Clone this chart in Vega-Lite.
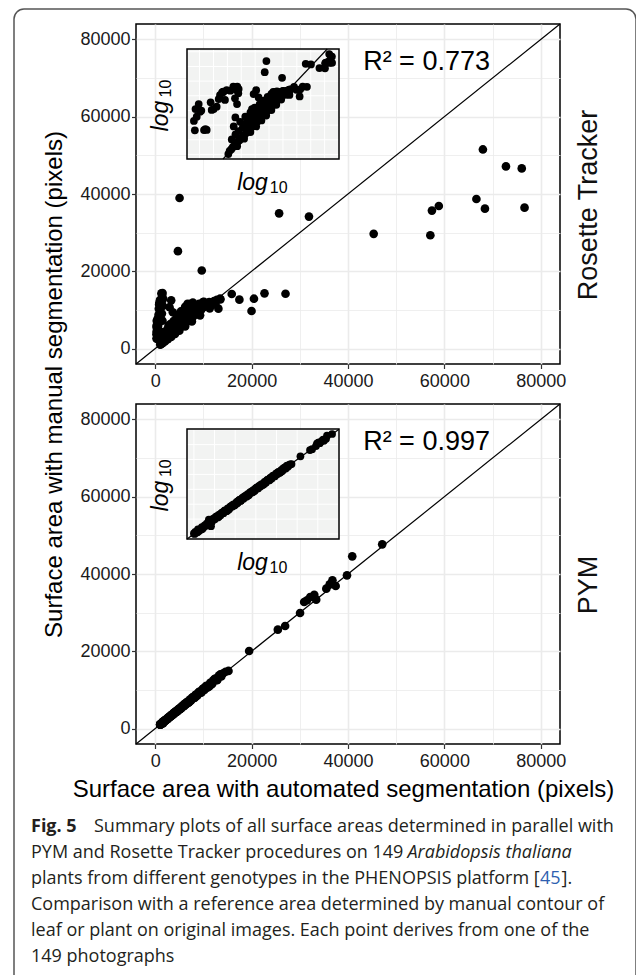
{
  "$schema": "https://vega.github.io/schema/vega-lite/v6.json",
  "background": "white",
  "autosize": {"type": "pad"},
  "padding": {"left": 13, "top": 8, "right": 0, "bottom": 0},
  "bounds": "flush",
  "spacing": 40,
  "datasets": {
    "rt": [
      {"auto": 57090, "manual": 29330}, {"auto": 57420, "manual": 35700}, {"auto": 58850, "manual": 36900}, {"auto": 66650, "manual": 38700},
      {"auto": 68000, "manual": 51530}, {"auto": 68420, "manual": 36200}, {"auto": 72780, "manual": 47140}, {"auto": 76060, "manual": 46620},
      {"auto": 76640, "manual": 36470}, {"auto": 45330, "manual": 29680},
      {"auto": 25700, "manual": 35000}, {"auto": 31900, "manual": 34150}, {"auto": 5040, "manual": 38970}, {"auto": 4700, "manual": 25200}, {"auto": 9650, "manual": 20200},
      {"auto": 15870, "manual": 14110}, {"auto": 17460, "manual": 12650}, {"auto": 20480, "manual": 12900}, {"auto": 19980, "manual": 9720},
      {"auto": 22670, "manual": 14280}, {"auto": 27030, "manual": 14190}, {"auto": 13520, "manual": 12730}, {"auto": 13100, "manual": 10320},
      {"auto": 267, "manual": 5930}, {"auto": 250, "manual": 3730}, {"auto": 305, "manual": 7210}, {"auto": 403, "manual": 2690}, {"auto": 380, "manual": 2600},
      {"auto": 568, "manual": 5930}, {"auto": 698, "manual": 8790}, {"auto": 803, "manual": 11400}, {"auto": 1132, "manual": 12200}, {"auto": 1393, "manual": 13900},
      {"auto": 1597, "manual": 13000}, {"auto": 1493, "manual": 7210}, {"auto": 1393, "manual": 4260}, {"auto": 2773, "manual": 5930}, {"auto": 2966, "manual": 10700},
      {"auto": 3648, "manual": 9380}, {"auto": 2590, "manual": 4000},
      {"auto": 1510, "manual": 14370}, {"auto": 840, "manual": 11600}, {"auto": 500, "manual": 7740}, {"auto": 340, "manual": 5600}, {"auto": 260, "manual": 2580},
      {"auto": 737, "manual": 10300}, {"auto": 845, "manual": 11730}, {"auto": 973, "manual": 12530}, {"auto": 1279, "manual": 14290}, {"auto": 1472, "manual": 12530},
      {"auto": 1574, "manual": 11010}, {"auto": 1371, "manual": 9050}, {"auto": 906, "manual": 8470}, {"auto": 642, "manual": 6510}, {"auto": 522, "manual": 5720},
      {"auto": 322, "manual": 5350}, {"auto": 281, "manual": 4390}, {"auto": 425, "manual": 2610},
      {"auto": 1040, "manual": 1016}, {"auto": 1100, "manual": 1150}, {"auto": 1180, "manual": 1230}, {"auto": 1250, "manual": 1330}, {"auto": 1320, "manual": 1380},
      {"auto": 1400, "manual": 1500}, {"auto": 1480, "manual": 1560}, {"auto": 1560, "manual": 1680}, {"auto": 1650, "manual": 1740}, {"auto": 1750, "manual": 1880},
      {"auto": 1850, "manual": 1950}, {"auto": 1950, "manual": 2100}, {"auto": 2060, "manual": 2180}, {"auto": 2180, "manual": 2350}, {"auto": 2300, "manual": 2420},
      {"auto": 2430, "manual": 2600}, {"auto": 2560, "manual": 2700}, {"auto": 2700, "manual": 2900}, {"auto": 2850, "manual": 3000}, {"auto": 3000, "manual": 3230},
      {"auto": 3150, "manual": 3320}, {"auto": 3320, "manual": 3560}, {"auto": 3500, "manual": 3680}, {"auto": 3680, "manual": 3950}, {"auto": 3870, "manual": 4080},
      {"auto": 4070, "manual": 4370}, {"auto": 4280, "manual": 4500}, {"auto": 4500, "manual": 4830}, {"auto": 4730, "manual": 4980}, {"auto": 4980, "manual": 5340},
      {"auto": 5230, "manual": 5500}, {"auto": 5500, "manual": 5900}, {"auto": 5780, "manual": 6080}, {"auto": 6080, "manual": 6520}, {"auto": 6390, "manual": 6720},
      {"auto": 6720, "manual": 7200}, {"auto": 7060, "manual": 7430}, {"auto": 7420, "manual": 7950}, {"auto": 7800, "manual": 8200}, {"auto": 8200, "manual": 8780},
      {"auto": 8620, "manual": 9060}, {"auto": 9060, "manual": 9700}, {"auto": 9520, "manual": 10020}, {"auto": 10010, "manual": 10700}, {"auto": 10520, "manual": 11070},
      {"auto": 11060, "manual": 11500}, {"auto": 11620, "manual": 11900}, {"auto": 12200, "manual": 12300}, {"auto": 12800, "manual": 12600}, {"auto": 13450, "manual": 12900},
      {"auto": 1200, "manual": 1800}, {"auto": 1400, "manual": 2200}, {"auto": 1600, "manual": 2500}, {"auto": 1900, "manual": 2900}, {"auto": 2200, "manual": 3400},
      {"auto": 2500, "manual": 3900}, {"auto": 2900, "manual": 4500}, {"auto": 3300, "manual": 5100}, {"auto": 3700, "manual": 5600}, {"auto": 4200, "manual": 6200},
      {"auto": 4700, "manual": 7000}, {"auto": 5300, "manual": 7700}, {"auto": 5900, "manual": 8500}, {"auto": 6600, "manual": 9400}, {"auto": 7400, "manual": 10300},
      {"auto": 8200, "manual": 11000}, {"auto": 9100, "manual": 11600}, {"auto": 10100, "manual": 12100}, {"auto": 11200, "manual": 12000}, {"auto": 12500, "manual": 11500},
      {"auto": 1300, "manual": 3000}, {"auto": 1700, "manual": 3600}, {"auto": 2100, "manual": 4400}, {"auto": 2600, "manual": 5200}, {"auto": 3100, "manual": 6300},
      {"auto": 3800, "manual": 7100}, {"auto": 4500, "manual": 8300}, {"auto": 5300, "manual": 9600}, {"auto": 6200, "manual": 10800}, {"auto": 7100, "manual": 11500},
      {"auto": 3300, "manual": 12470}, {"auto": 6130, "manual": 9460}, {"auto": 6700, "manual": 11600}, {"auto": 7800, "manual": 11870}, {"auto": 9900, "manual": 12040},
      {"auto": 1500, "manual": 1380}, {"auto": 2000, "manual": 1850}, {"auto": 2600, "manual": 2400}, {"auto": 3300, "manual": 3000}, {"auto": 4100, "manual": 3800},
      {"auto": 5000, "manual": 4600}, {"auto": 6200, "manual": 5700}, {"auto": 7600, "manual": 7000}, {"auto": 9300, "manual": 8600}, {"auto": 11300, "manual": 10400}
    ],
    "pym": [
      {"auto": 1000, "manual": 1020}, {"auto": 1040, "manual": 1090}, {"auto": 1080, "manual": 1060}, {"auto": 1120, "manual": 1200}, {"auto": 1160, "manual": 1140},
      {"auto": 1200, "manual": 1190}, {"auto": 1250, "manual": 1310}, {"auto": 1300, "manual": 1290}, {"auto": 1350, "manual": 1400}, {"auto": 1400, "manual": 1370},
      {"auto": 1460, "manual": 1500}, {"auto": 1520, "manual": 1490}, {"auto": 1580, "manual": 1660}, {"auto": 1650, "manual": 1610}, {"auto": 1720, "manual": 1780},
      {"auto": 1790, "manual": 1760}, {"auto": 1860, "manual": 1950}, {"auto": 1940, "manual": 1900}, {"auto": 2020, "manual": 2110}, {"auto": 2100, "manual": 2060},
      {"auto": 2190, "manual": 2270}, {"auto": 2280, "manual": 2230}, {"auto": 2370, "manual": 2480}, {"auto": 2470, "manual": 2420}, {"auto": 2570, "manual": 2690},
      {"auto": 2680, "manual": 2620}, {"auto": 2790, "manual": 2900}, {"auto": 2900, "manual": 2870}, {"auto": 3020, "manual": 3150}, {"auto": 3140, "manual": 3080},
      {"auto": 3270, "manual": 3400}, {"auto": 3400, "manual": 3330}, {"auto": 3540, "manual": 3700}, {"auto": 3680, "manual": 3620}, {"auto": 3830, "manual": 3980},
      {"auto": 3980, "manual": 3910}, {"auto": 4140, "manual": 4320}, {"auto": 4310, "manual": 4230}, {"auto": 4480, "manual": 4660}, {"auto": 4660, "manual": 4580},
      {"auto": 4850, "manual": 5050}, {"auto": 5040, "manual": 4960}, {"auto": 5240, "manual": 5450}, {"auto": 5450, "manual": 5360}, {"auto": 5670, "manual": 5900},
      {"auto": 5900, "manual": 5800}, {"auto": 6130, "manual": 6380}, {"auto": 6380, "manual": 6270}, {"auto": 6630, "manual": 6900}, {"auto": 6900, "manual": 6780},
      {"auto": 7170, "manual": 7470}, {"auto": 7460, "manual": 7330}, {"auto": 7760, "manual": 8080}, {"auto": 8070, "manual": 7930}, {"auto": 8390, "manual": 8730},
      {"auto": 8720, "manual": 8570}, {"auto": 9070, "manual": 9440}, {"auto": 9430, "manual": 9270}, {"auto": 9810, "manual": 10200}, {"auto": 10200, "manual": 10020},
      {"auto": 10600, "manual": 11030}, {"auto": 11000, "manual": 10810}, {"auto": 11400, "manual": 11860}, {"auto": 11850, "manual": 11640}, {"auto": 12300, "manual": 12790},
      {"auto": 12750, "manual": 12530}, {"auto": 13200, "manual": 13720}, {"auto": 13700, "manual": 13460},
      {"auto": 1020, "manual": 1000}, {"auto": 1140, "manual": 1180}, {"auto": 1280, "manual": 1250}, {"auto": 1430, "manual": 1500}, {"auto": 1600, "manual": 1560},
      {"auto": 1800, "manual": 1880}, {"auto": 2000, "manual": 1950}, {"auto": 2240, "manual": 2330}, {"auto": 2500, "manual": 2440}, {"auto": 2750, "manual": 2860},
      {"auto": 3050, "manual": 2980}, {"auto": 3350, "manual": 3480}, {"auto": 3700, "manual": 3600}, {"auto": 4050, "manual": 4200}, {"auto": 4400, "manual": 4290},
      {"auto": 4750, "manual": 4930}, {"auto": 5150, "manual": 5020}, {"auto": 5550, "manual": 5760}, {"auto": 6000, "manual": 5850}, {"auto": 6500, "manual": 6740},
      {"auto": 7000, "manual": 6830}, {"auto": 7600, "manual": 7880}, {"auto": 8200, "manual": 8000}, {"auto": 8900, "manual": 9240}, {"auto": 9600, "manual": 9370},
      {"auto": 10400, "manual": 10800}, {"auto": 11200, "manual": 10930}, {"auto": 12000, "manual": 12450}, {"auto": 12900, "manual": 12600}, {"auto": 13500, "manual": 14000},
      {"auto": 1700, "manual": 1790}, {"auto": 2600, "manual": 2520}, {"auto": 3600, "manual": 3780}, {"auto": 4600, "manual": 4480}, {"auto": 5800, "manual": 6050},
      {"auto": 7300, "manual": 7150}, {"auto": 9200, "manual": 9550}, {"auto": 11600, "manual": 11350},
      {"auto": 1100, "manual": 1070}, {"auto": 1250, "manual": 1200}, {"auto": 1500, "manual": 1560}, {"auto": 1900, "manual": 1990}, {"auto": 2300, "manual": 2380},
      {"auto": 2900, "manual": 3020}, {"auto": 3300, "manual": 3260}, {"auto": 3900, "manual": 4060}, {"auto": 4300, "manual": 4470}, {"auto": 5000, "manual": 5180},
      {"auto": 5400, "manual": 5280}, {"auto": 6200, "manual": 6450}, {"auto": 6800, "manual": 6650}, {"auto": 7900, "manual": 8200}, {"auto": 8600, "manual": 8450},
      {"auto": 10000, "manual": 10380}, {"auto": 10800, "manual": 10590}, {"auto": 12500, "manual": 12950},
      {"auto": 1150, "manual": 1120}, {"auto": 2150, "manual": 2240}, {"auto": 3450, "manual": 3580}, {"auto": 8400, "manual": 8700},
      {"auto": 1517, "manual": 1747}, {"auto": 1611, "manual": 1350},
      {"auto": 14100, "manual": 14300}, {"auto": 14600, "manual": 14700}, {"auto": 15200, "manual": 14910}, {"auto": 19480, "manual": 20080},
      {"auto": 25440, "manual": 25600}, {"auto": 26950, "manual": 26550}, {"auto": 30050, "manual": 29910}, {"auto": 30900, "manual": 32760},
      {"auto": 31500, "manual": 33200}, {"auto": 32150, "manual": 34050}, {"auto": 33400, "manual": 33360}, {"auto": 33000, "manual": 34600},
      {"auto": 35500, "manual": 36200}, {"auto": 36200, "manual": 37300}, {"auto": 36770, "manual": 38360}, {"auto": 37440, "manual": 36900},
      {"auto": 39790, "manual": 39650}, {"auto": 40880, "manual": 44570}, {"auto": 47100, "manual": 47670}
    ],
    "gridRT": [{"g": 316.23}, {"g": 562.34}, {"g": 1000}, {"g": 1778.28}, {"g": 3162.28}, {"g": 5623.41}, {"g": 10000}, {"g": 17782.8}, {"g": 31622.8}, {"g": 56234.1}],
    "gridRTy": [{"g": 1000}, {"g": 1778.28}, {"g": 3162.28}, {"g": 5623.41}, {"g": 10000}, {"g": 17782.8}, {"g": 31622.8}, {"g": 56234.1}],
    "gridPYM": [{"g": 1000}, {"g": 1778.28}, {"g": 3162.28}, {"g": 5623.41}, {"g": 10000}, {"g": 17782.8}, {"g": 31622.8}, {"g": 56234.1}]
  },
  "vconcat": [
    {
      "width": 424,
      "height": 340,
      "title": {"text": "Rosette Tracker", "orient": "right", "anchor": "middle", "frame": "group", "angle": 270, "baseline": "alphabetic", "offset": 4, "dx": -11, "fontSize": 27, "font": "Liberation Sans", "fontWeight": "normal", "color": "#111111"},
      "resolve": {"scale": {"x": "independent", "y": "independent"}},
      "layer": [
        {
          "layer": [
            {
              "data": {"name": "rt"},
              "mark": {"type": "circle", "size": 75, "color": "black", "opacity": 1},
              "encoding": {
                "x": {"field": "auto", "type": "quantitative", "scale": {"domain": [-4000, 84000], "nice": false, "zero": false},
                  "axis": {"values": [0, 10000, 20000, 30000, 40000, 50000, 60000, 70000, 80000], "format": "d",
                    "labelExpr": "datum.value % 20000 === 0 ? datum.label : ''",
                    "tickOpacity": {"condition": {"test": "datum.value % 20000 === 0", "value": 1}, "value": 0},
                    "gridWidth": {"condition": {"test": "datum.value % 20000 === 0", "value": 1.6}, "value": 0.8},
                    "labelPadding": 3.5, "title": null}},
                "y": {"field": "manual", "type": "quantitative", "scale": {"domain": [-4000, 84000], "nice": false, "zero": false},
                  "axis": {"values": [0, 10000, 20000, 30000, 40000, 50000, 60000, 70000, 80000], "format": "d",
                    "labelExpr": "datum.value % 20000 === 0 ? datum.label : ''",
                    "tickOpacity": {"condition": {"test": "datum.value % 20000 === 0", "value": 1}, "value": 0},
                    "gridWidth": {"condition": {"test": "datum.value % 20000 === 0", "value": 1.6}, "value": 0.8},
                    "labelPadding": 1.5,
                    "title": "Surface area with manual segmentation (pixels)",
                    "titleAngle": 270, "titleAlign": "center", "titleBaseline": "alphabetic", "titleX": -75, "titleY": 360}}
              }
            },
            {
              "data": {"values": [{}]},
              "mark": {"type": "rule", "color": "black", "strokeWidth": 1.2},
              "encoding": {"x": {"datum": -4000, "type": "quantitative"}, "y": {"datum": -4000, "type": "quantitative"}, "x2": {"datum": 84000}, "y2": {"datum": 84000}}
            },
            {
              "data": {"values": [{"label": "R² = 0.773"}]},
              "mark": {"type": "text", "font": "Liberation Sans", "fontSize": 27, "align": "left", "baseline": "middle", "color": "black"},
              "encoding": {"text": {"field": "label"}, "x": {"datum": 43140, "type": "quantitative"}, "y": {"datum": 74060, "type": "quantitative"}}
            }
          ]
        },
        {
          "layer": [
            {
              "data": {"values": [{}]},
              "mark": {"type": "rect", "fill": "#F2F3F2"},
              "encoding": {
                "x": {"datum": 187.8, "type": "quantitative", "scale": {"type": "log", "domain": [187.8, 102040], "range": [51, 203], "nice": false, "zero": false}, "axis": null},
                "x2": {"datum": 102040},
                "y": {"datum": 835.1, "type": "quantitative", "scale": {"type": "log", "domain": [835.1, 62710], "range": [135, 25], "nice": false, "zero": false}, "axis": null},
                "y2": {"datum": 62710}
              }
            },
            {
              "data": {"name": "gridRT"},
              "mark": {"type": "rule", "color": "white", "strokeWidth": 1},
              "encoding": {"x": {"field": "g", "type": "quantitative", "axis": null}, "y": {"datum": 835.1, "type": "quantitative", "axis": null}, "y2": {"datum": 62710}}
            },
            {
              "data": {"name": "gridRTy"},
              "mark": {"type": "rule", "color": "white", "strokeWidth": 1},
              "encoding": {"y": {"field": "g", "type": "quantitative", "axis": null}, "x": {"datum": 187.8, "type": "quantitative", "axis": null}, "x2": {"datum": 102040}}
            },
            {
              "data": {"name": "rt"},
              "mark": {"type": "circle", "size": 60, "color": "black", "opacity": 1},
              "encoding": {"x": {"field": "auto", "type": "quantitative", "axis": null}, "y": {"field": "manual", "type": "quantitative", "axis": null}}
            },
            {
              "data": {"values": [{}]},
              "mark": {"type": "rule", "color": "black", "strokeWidth": 1.2},
              "encoding": {"x": {"datum": 835.1, "type": "quantitative", "axis": null}, "y": {"datum": 835.1, "type": "quantitative", "axis": null}, "x2": {"datum": 62710}, "y2": {"datum": 62710}}
            },
            {
              "data": {"values": [{}]},
              "mark": {"type": "rect", "fillOpacity": 0, "stroke": "black", "strokeWidth": 1.5},
              "encoding": {"x": {"datum": 187.8, "type": "quantitative", "axis": null}, "x2": {"datum": 102040}, "y": {"datum": 835.1, "type": "quantitative", "axis": null}, "y2": {"datum": 62710}}
            },
            {
              "data": {"values": [{"t": "log"}]},
              "mark": {"type": "text", "font": "Liberation Sans", "fontStyle": "italic", "fontSize": 23, "align": "center", "baseline": "middle", "color": "black"},
              "encoding": {"text": {"field": "t"}, "x": {"datum": 2834, "type": "quantitative", "axis": null}, "y": {"datum": 325.3, "type": "quantitative", "axis": null}}
            },
            {
              "data": {"values": [{"t": "10"}]},
              "mark": {"type": "text", "font": "Liberation Sans", "fontSize": 16, "align": "center", "baseline": "middle", "color": "black"},
              "encoding": {"text": {"field": "t"}, "x": {"datum": 8400, "type": "quantitative", "axis": null}, "y": {"datum": 267.4, "type": "quantitative", "axis": null}}
            },
            {
              "data": {"values": [{"t": "log"}]},
              "mark": {"type": "text", "font": "Liberation Sans", "fontStyle": "italic", "fontSize": 23, "align": "center", "baseline": "middle", "angle": 270, "color": "black"},
              "encoding": {"text": {"field": "t"}, "x": {"datum": 63.95, "type": "quantitative", "axis": null}, "y": {"datum": 4517, "type": "quantitative", "axis": null}}
            },
            {
              "data": {"values": [{"t": "10"}]},
              "mark": {"type": "text", "font": "Liberation Sans", "fontSize": 16, "align": "center", "baseline": "middle", "angle": 270, "color": "black"},
              "encoding": {"text": {"field": "t"}, "x": {"datum": 78.7, "type": "quantitative", "axis": null}, "y": {"datum": 13300, "type": "quantitative", "axis": null}}
            }
          ]
        }
      ]
    },
    {
      "width": 424,
      "height": 340,
      "title": {"text": "PYM", "orient": "right", "anchor": "middle", "frame": "group", "angle": 270, "baseline": "alphabetic", "offset": -44, "dx": -11, "fontSize": 27, "font": "Liberation Sans", "fontWeight": "normal", "color": "#111111"},
      "resolve": {"scale": {"x": "independent", "y": "independent"}},
      "layer": [
        {
          "layer": [
            {
              "data": {"name": "pym"},
              "mark": {"type": "circle", "size": 75, "color": "black", "opacity": 1},
              "encoding": {
                "x": {"field": "auto", "type": "quantitative", "scale": {"domain": [-4000, 84000], "nice": false, "zero": false},
                  "axis": {"values": [0, 10000, 20000, 30000, 40000, 50000, 60000, 70000, 80000], "format": "d",
                    "labelExpr": "datum.value % 20000 === 0 ? datum.label : ''",
                    "tickOpacity": {"condition": {"test": "datum.value % 20000 === 0", "value": 1}, "value": 0},
                    "gridWidth": {"condition": {"test": "datum.value % 20000 === 0", "value": 1.6}, "value": 0.8},
                    "labelPadding": 3.5,
                    "title": "Surface area with automated segmentation (pixels)",
                    "titleAlign": "center", "titleBaseline": "alphabetic", "titleAngle": 0, "titleX": 207, "titleY": 52.6}},
                "y": {"field": "manual", "type": "quantitative", "scale": {"domain": [-4000, 84000], "nice": false, "zero": false},
                  "axis": {"values": [0, 10000, 20000, 30000, 40000, 50000, 60000, 70000, 80000], "format": "d",
                    "labelExpr": "datum.value % 20000 === 0 ? datum.label : ''",
                    "tickOpacity": {"condition": {"test": "datum.value % 20000 === 0", "value": 1}, "value": 0},
                    "gridWidth": {"condition": {"test": "datum.value % 20000 === 0", "value": 1.6}, "value": 0.8},
                    "labelPadding": 1.5, "title": null}}
              }
            },
            {
              "data": {"values": [{}]},
              "mark": {"type": "rule", "color": "black", "strokeWidth": 1.2},
              "encoding": {"x": {"datum": -4000, "type": "quantitative"}, "y": {"datum": -4000, "type": "quantitative"}, "x2": {"datum": 84000}, "y2": {"datum": 84000}}
            },
            {
              "data": {"values": [{"label": "R² = 0.997"}]},
              "mark": {"type": "text", "font": "Liberation Sans", "fontSize": 27, "align": "left", "baseline": "middle", "color": "black"},
              "encoding": {"text": {"field": "label"}, "x": {"datum": 43140, "type": "quantitative"}, "y": {"datum": 74060, "type": "quantitative"}}
            }
          ]
        },
        {
          "layer": [
            {
              "data": {"values": [{}]},
              "mark": {"type": "rect", "fill": "#F2F3F2"},
              "encoding": {
                "x": {"datum": 824.8, "type": "quantitative", "scale": {"type": "log", "domain": [824.8, 57100], "range": [51, 203], "nice": false, "zero": false}, "axis": null},
                "x2": {"datum": 57100},
                "y": {"datum": 824.3, "type": "quantitative", "scale": {"type": "log", "domain": [824.3, 57830], "range": [135, 25], "nice": false, "zero": false}, "axis": null},
                "y2": {"datum": 57830}
              }
            },
            {
              "data": {"name": "gridPYM"},
              "mark": {"type": "rule", "color": "white", "strokeWidth": 1},
              "encoding": {"x": {"field": "g", "type": "quantitative", "axis": null}, "y": {"datum": 824.3, "type": "quantitative", "axis": null}, "y2": {"datum": 57830}}
            },
            {
              "data": {"name": "gridPYM"},
              "mark": {"type": "rule", "color": "white", "strokeWidth": 1},
              "encoding": {"y": {"field": "g", "type": "quantitative", "axis": null}, "x": {"datum": 824.8, "type": "quantitative", "axis": null}, "x2": {"datum": 57100}}
            },
            {
              "data": {"name": "pym"},
              "mark": {"type": "circle", "size": 60, "color": "black", "opacity": 1},
              "encoding": {"x": {"field": "auto", "type": "quantitative", "axis": null}, "y": {"field": "manual", "type": "quantitative", "axis": null}}
            },
            {
              "data": {"values": [{}]},
              "mark": {"type": "rule", "color": "black", "strokeWidth": 1.2},
              "encoding": {"x": {"datum": 824.8, "type": "quantitative", "axis": null}, "y": {"datum": 824.8, "type": "quantitative", "axis": null}, "x2": {"datum": 57100}, "y2": {"datum": 57100}}
            },
            {
              "data": {"values": [{}]},
              "mark": {"type": "rect", "fillOpacity": 0, "stroke": "black", "strokeWidth": 1.5},
              "encoding": {"x": {"datum": 824.8, "type": "quantitative", "axis": null}, "x2": {"datum": 57100}, "y": {"datum": 824.3, "type": "quantitative", "axis": null}, "y2": {"datum": 57830}}
            },
            {
              "data": {"values": [{"t": "log"}]},
              "mark": {"type": "text", "font": "Liberation Sans", "fontStyle": "italic", "fontSize": 23, "align": "center", "baseline": "middle", "color": "black"},
              "encoding": {"text": {"field": "t"}, "x": {"datum": 5122, "type": "quantitative", "axis": null}, "y": {"datum": 326.1, "type": "quantitative", "axis": null}}
            },
            {
              "data": {"values": [{"t": "10"}]},
              "mark": {"type": "text", "font": "Liberation Sans", "fontSize": 16, "align": "center", "baseline": "middle", "color": "black"},
              "encoding": {"text": {"field": "t"}, "x": {"datum": 10550, "type": "quantitative", "axis": null}, "y": {"datum": 268.8, "type": "quantitative", "axis": null}}
            },
            {
              "data": {"values": [{"t": "log"}]},
              "mark": {"type": "text", "font": "Liberation Sans", "fontStyle": "italic", "fontSize": 23, "align": "center", "baseline": "middle", "angle": 270, "color": "black"},
              "encoding": {"text": {"field": "t"}, "x": {"datum": 399.6, "type": "quantitative", "axis": null}, "y": {"datum": 4342, "type": "quantitative", "axis": null}}
            },
            {
              "data": {"values": [{"t": "10"}]},
              "mark": {"type": "text", "font": "Liberation Sans", "fontSize": 16, "align": "center", "baseline": "middle", "angle": 270, "color": "black"},
              "encoding": {"text": {"field": "t"}, "x": {"datum": 459.3, "type": "quantitative", "axis": null}, "y": {"datum": 12700, "type": "quantitative", "axis": null}}
            }
          ]
        }
      ]
    },
    {
      "width": 424,
      "height": 190,
      "view": {"stroke": null},
      "layer": [
        {
          "data": {"values": [{}]},
          "mark": {"type": "rect", "fillOpacity": 0, "stroke": "#555555", "strokeWidth": 1.5, "cornerRadius": 10},
          "encoding": {
            "x": {"datum": -122, "type": "quantitative", "scale": {"domain": [0, 424], "nice": false, "zero": false}, "axis": null},
            "x2": {"datum": 500},
            "y": {"datum": -30.45, "type": "quantitative", "scale": {"domain": [-0.6423, 6.6654], "reverse": true, "nice": false, "zero": false}, "axis": null},
            "y2": {"datum": 7.09}
          }
        },
        {
          "data": {"values": [{"line": 1, "t": "Fig. 5"}]},
          "mark": {"type": "text", "font": "Open Sans", "fontSize": 18, "fontWeight": "bold", "align": "left", "baseline": "middle", "color": "#231F20"},
          "encoding": {"text": {"field": "t"}, "x": {"datum": -105, "type": "quantitative", "axis": null}, "y": {"field": "line", "type": "quantitative", "axis": null}}
        },
        {
          "data": {"values": [{"line": 1, "t": "Summary plots of all surface areas determined in parallel with"}]},
          "mark": {"type": "text", "font": "Open Sans", "fontSize": 18, "align": "left", "baseline": "middle", "color": "#231F20"},
          "encoding": {"text": {"field": "t"}, "x": {"datum": -42, "type": "quantitative", "axis": null}, "y": {"field": "line", "type": "quantitative", "axis": null}}
        },
        {
          "data": {"values": [
            {"line": 2, "t": "PYM and Rosette Tracker procedures on 149"},
            {"line": 3, "t": "plants from different genotypes in the PHENOPSIS platform ["},
            {"line": 4, "t": "Comparison with a reference area determined by manual contour of"},
            {"line": 5, "t": "leaf or plant on original images. Each point derives from one of the"},
            {"line": 6, "t": "149 photographs"}
          ]},
          "mark": {"type": "text", "font": "Open Sans", "fontSize": 18, "align": "left", "baseline": "middle", "color": "#231F20"},
          "encoding": {"text": {"field": "t"}, "x": {"datum": -105, "type": "quantitative", "axis": null}, "y": {"field": "line", "type": "quantitative", "axis": null}}
        },
        {
          "data": {"values": [{"line": 2, "t": "Arabidopsis thaliana"}]},
          "mark": {"type": "text", "font": "Open Sans", "fontSize": 18, "fontStyle": "italic", "align": "left", "baseline": "middle", "color": "#231F20"},
          "encoding": {"text": {"field": "t"}, "x": {"datum": 271.5, "type": "quantitative", "axis": null}, "y": {"field": "line", "type": "quantitative", "axis": null}}
        },
        {
          "data": {"values": [{"line": 3, "t": "45"}]},
          "mark": {"type": "text", "font": "Open Sans", "fontSize": 18, "align": "left", "baseline": "middle", "color": "#2F5FB0"},
          "encoding": {"text": {"field": "t"}, "x": {"datum": 404, "type": "quantitative", "axis": null}, "y": {"field": "line", "type": "quantitative", "axis": null}}
        },
        {
          "data": {"values": [{"line": 3, "t": "]."}]},
          "mark": {"type": "text", "font": "Open Sans", "fontSize": 18, "align": "left", "baseline": "middle", "color": "#231F20"},
          "encoding": {"text": {"field": "t"}, "x": {"datum": 425.5, "type": "quantitative", "axis": null}, "y": {"field": "line", "type": "quantitative", "axis": null}}
        }
      ]
    }
  ],
  "config": {
    "font": "Liberation Sans",
    "view": {"stroke": "black", "strokeWidth": 1.5},
    "axis": {
      "labelFont": "Liberation Sans", "labelFontSize": 18, "labelColor": "#1a1a1a",
      "tickColor": "#333333", "tickSize": 4.5, "tickWidth": 1.2,
      "domain": false, "gridColor": "#EBEBEB",
      "titleFont": "Liberation Sans", "titleFontSize": 24, "titleFontWeight": "normal", "titleColor": "#000000"
    }
  }
}
